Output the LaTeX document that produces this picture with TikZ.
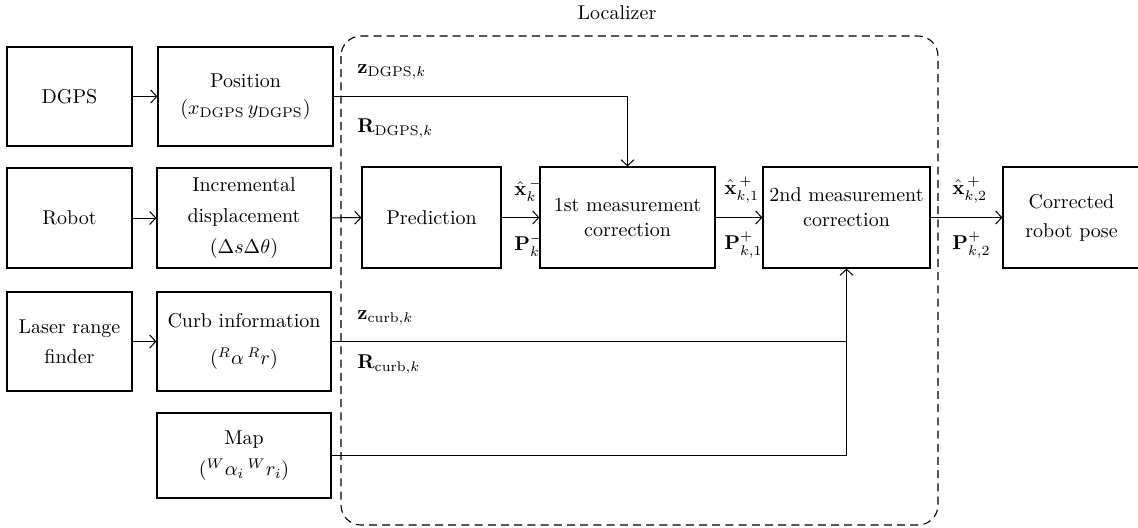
\documentclass[tikz,border=0pt]{standalone}
\usepackage{amsmath}
\usepackage{tikz}
\usetikzlibrary{positioning,arrows.meta}

\tikzset{
  blk/.style={draw, line width=0.6pt, align=center, inner sep=1pt, font=\fontsize{10}{12.5}\selectfont},
  conn/.style={line width=0.5pt, -{Straight Barb[length=3pt,width=6.5pt]}},
  wire/.style={line width=0.5pt},
  lbl/.style={inner sep=0pt, font=\fontsize{10}{12.5}\selectfont},
  localizer/.style={draw, line width=0.55pt, dash pattern=on 4pt off 2.6pt, rounded corners=10pt}
}

\begin{document}
\begin{tikzpicture}[x=0.5pt, y=-0.5pt]
\useasboundingbox (0,0) rectangle (1138,527);
% localizer frame
\draw[localizer] (341,36) rectangle (938,525);
\node[lbl] (loctitle) at (617,13) {Localizer};
% sensors
\node[blk, minimum width=62.5pt, minimum height=49.5pt] (dgps) at (69.5,96.5) {DGPS};
\node[blk, minimum width=62.5pt, minimum height=50pt] (robot) at (69.5,218) {Robot};
\node[blk, minimum width=62.5pt, minimum height=49.5pt] (laser) at (69.5,341.5) {Laser range\\[2.5pt]finder};
% measurements
\node[blk, minimum width=87.5pt, minimum height=49.5pt] (pos) at (245.5,96.5) {Position\\[1pt]$(x_{\mathrm{DGPS}}\,y_{\mathrm{DGPS}})$};
\node[blk, minimum width=87pt, minimum height=50pt] (incr) at (244,218) {Incremental\\[3pt]displacement\\[3pt]$(\Delta s\Delta\theta)$};
\node[blk, minimum width=87pt, minimum height=49.5pt] (curb) at (244,341.5) {Curb information\\[6pt]$({}^{R}\alpha\,{}^{R}r)$};
\node[blk, minimum width=87pt, minimum height=42.5pt] (map) at (244,455.5) {Map\\[3pt]$({}^{W}\alpha_i\,{}^{W}r_i)$};
% filter
\node[blk, minimum width=69.5pt, minimum height=50.5pt] (pred) at (431.5,217.5) {Prediction};
\node[blk, minimum width=87.5pt, minimum height=50.5pt] (corr1) at (627.5,217.5) {1st measurement\\correction};
\node[blk, minimum width=83.5pt, minimum height=50.5pt] (corr2) at (846.5,217.5) {2nd measurement\\correction\\[-2pt]};
\node[blk, minimum width=68.5pt, minimum height=50.5pt] (pose) at (1071.5,217.5) {Corrected\\[2pt]robot pose};
% connectors
\draw[conn] (dgps) -- (pos);
\draw[conn] (robot) -- (incr);
\draw[conn] (laser) -- (curb);
\draw[conn] (incr) -- (pred);
\draw[conn] (pred) -- (corr1);
\draw[conn] (corr1) -- (corr2);
\draw[conn] (corr2) -- (pose);
\draw[conn] (pos.east) -| (corr1.north);
\draw[conn] (curb.east) -| (corr2.south);
\coordinate (cj) at (corr2.south |- curb.east);
\draw[wire] (map.east) -| (cj);
% labels
\node[lbl, anchor=west] (zd) at (357,72) {$\mathbf{z}_{\mathrm{DGPS},k}$};
\node[lbl, anchor=west] (rd) at (357,128) {$\mathbf{R}_{\mathrm{DGPS},k}$};
\node[lbl, anchor=west] (zc) at (357,318) {$\mathbf{z}_{\mathrm{curb},k}$};
\node[lbl, anchor=west] (rc) at (357,364) {$\mathbf{R}_{\mathrm{curb},k}$};
\node[lbl, anchor=west] (xp) at (514,190) {$\hat{\mathbf{x}}_k^{\,-}$};
\node[lbl, anchor=west] (pp) at (514,245) {$\mathbf{P}_k^-$};
\node[lbl, anchor=west] (x1) at (724,190) {$\hat{\mathbf{x}}_{k,1}^{\,+}$};
\node[lbl, anchor=west] (p1) at (724,245) {$\mathbf{P}_{k,1}^+$};
\node[lbl, anchor=west] (x2) at (952,190) {$\hat{\mathbf{x}}_{k,2}^{\,+}$};
\node[lbl, anchor=west] (p2) at (952,245) {$\mathbf{P}_{k,2}^+$};
\end{tikzpicture}
\end{document}
